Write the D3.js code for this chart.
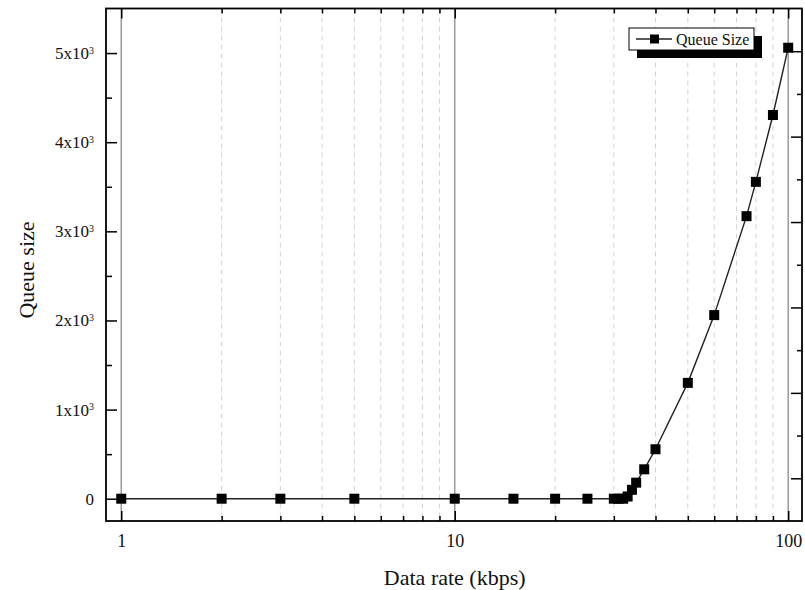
<!DOCTYPE html>
<html>
<head>
<meta charset="utf-8">
<script src="https://cdn.jsdelivr.net/npm/d3@7"></script>
<style>
  body { margin: 0; background: #fff; }
  svg { display: block; font-family: "Liberation Serif", "Times New Roman", serif; }
</style>
</head>
<body>
<div id="chart"></div>
<script>
// data rate (kbps) vs queue size
var rates = [1, 2, 3, 5, 10, 15, 20, 25, 30, 31, 32, 33, 34, 35, 37, 40, 50, 60, 75, 80, 90, 100];
var queue = [0, 0, 0, 0, 0, 0, 0, 0, 0, 0, 0, 25, 100, 180, 330, 555, 1300, 2060, 3170, 3555, 4305, 5060];
var xMajor = [1, 10, 100];
var xMinor = [2, 3, 4, 5, 6, 7, 8, 9, 20, 30, 40, 50, 60, 70, 80, 90];
var yMajor = [0, 1000, 2000, 3000, 4000, 5000];
var yMinor = [500, 1500, 2500, 3500, 4500];
var seriesName = 'Queue Size';

var draw = function () {
    var W = 805, H = 590;
    var pL = 106, pR = 802, pT = 8.5, pB = 521;

    var svg = d3.select('#chart').append('svg')
        .attr('width', W)
        .attr('height', H);

    var x = d3.scaleLog().domain([0.9, 110]).range([pL, pR]);
    var y = d3.scaleLinear().domain([-250, 5500]).range([pB, pT]);
    // right axis in Origin is independent, only ticks
    var yR = d3.scaleLinear().domain([-0.5, 5.5]).range([pB, pT]);

    // grid
    svg.append('g').selectAll('line')
        .data(xMinor)
        .enter().append('line')
        .attr('x1', function (d) { return x(d); })
        .attr('x2', function (d) { return x(d); })
        .attr('y1', pT)
        .attr('y2', pB)
        .style('stroke', '#d4d4d4')
        .style('stroke-width', 1)
        .style('stroke-dasharray', '5,4');
    svg.append('g').selectAll('line')
        .data(xMajor)
        .enter().append('line')
        .attr('x1', function (d) { return x(d); })
        .attr('x2', function (d) { return x(d); })
        .attr('y1', pT)
        .attr('y2', pB)
        .style('stroke', '#9a9a9a')
        .style('stroke-width', 1.5);

    // axes
    var styleAxis = function (g) {
        g.select('.domain').remove();
        g.selectAll('.tick line').style('stroke', '#000').style('stroke-width', 1.5);
        g.selectAll('text').style('font-family', '"Liberation Serif", serif').style('fill', '#111');
    };

    svg.append('g')
        .attr('transform', 'translate(0,' + pB + ')')
        .call(d3.axisBottom(x).tickValues(xMajor).tickSizeInner(-10).tickSizeOuter(0).tickPadding(13)
            .tickFormat(function (d) { return d; }))
        .call(styleAxis)
        .selectAll('text').style('font-size', '18px');
    svg.append('g')
        .attr('transform', 'translate(0,' + pB + ')')
        .call(d3.axisBottom(x).tickValues(xMinor).tickSizeInner(-5).tickSizeOuter(0).tickFormat(''))
        .call(styleAxis);
    svg.append('g')
        .attr('transform', 'translate(0,' + pT + ')')
        .call(d3.axisTop(x).tickValues(xMajor).tickSizeInner(-10).tickSizeOuter(0).tickFormat(''))
        .call(styleAxis);
    svg.append('g')
        .attr('transform', 'translate(0,' + pT + ')')
        .call(d3.axisTop(x).tickValues(xMinor).tickSizeInner(-5).tickSizeOuter(0).tickFormat(''))
        .call(styleAxis);

    var yAxis = svg.append('g')
        .attr('transform', 'translate(' + pL + ',0)')
        .call(d3.axisLeft(y).tickValues(yMajor).tickSizeInner(-11).tickSizeOuter(0).tickPadding(12))
        .call(styleAxis);
    yAxis.selectAll('text')
        .style('font-size', '17px')
        .text(null)
        .each(function (d) {
            var t = d3.select(this);
            if (d === 0) {
                t.append('tspan').text('0');
                return;
            }
            t.append('tspan').text((d / 1000) + 'x10');
            t.append('tspan').attr('dy', '-0.55em').style('font-size', '10px').text('3');
        });
    svg.append('g')
        .attr('transform', 'translate(' + pL + ',0)')
        .call(d3.axisLeft(y).tickValues(yMinor).tickSizeInner(-6).tickSizeOuter(0).tickFormat(''))
        .call(styleAxis);

    svg.append('g')
        .attr('transform', 'translate(' + pR + ',0)')
        .call(d3.axisRight(yR).tickValues([0, 1, 2, 3, 4, 5]).tickSizeInner(-11).tickSizeOuter(0).tickFormat(''))
        .call(styleAxis);
    svg.append('g')
        .attr('transform', 'translate(' + pR + ',0)')
        .call(d3.axisRight(yR).tickValues([0.5, 1.5, 2.5, 3.5, 4.5]).tickSizeInner(-5).tickSizeOuter(0).tickFormat(''))
        .call(styleAxis);

    // frame
    svg.append('rect')
        .attr('x', pL)
        .attr('y', pT)
        .attr('width', pR - pL)
        .attr('height', pB - pT)
        .style('fill', 'none')
        .style('stroke', '#000')
        .style('stroke-width', 1.8);

    // series
    var pts = rates.map(function (r, i) { return [r, queue[i]]; });
    svg.append('path')
        .datum(pts)
        .attr('d', d3.line().x(function (d) { return x(d[0]); }).y(function (d) { return y(d[1]); }))
        .style('fill', 'none')
        .style('stroke', '#222')
        .style('stroke-width', 1.4);
    svg.append('g').selectAll('rect')
        .data(pts)
        .enter().append('rect')
        .attr('x', function (d) { return x(d[0]) - 5; })
        .attr('y', function (d) { return y(d[1]) - 5; })
        .attr('width', 10)
        .attr('height', 10)
        .style('fill', '#000');

    // legend
    var lg = svg.append('g').attr('transform', 'translate(629,28)');
    lg.append('rect').attr('x', 8).attr('y', 8).attr('width', 125).attr('height', 22).style('fill', '#000');
    lg.append('rect').attr('width', 125).attr('height', 22)
        .style('fill', '#fff').style('stroke', '#000').style('stroke-width', 1);
    lg.append('line').attr('x1', 7).attr('x2', 43).attr('y1', 11).attr('y2', 11)
        .style('stroke', '#222').style('stroke-width', 1.4);
    lg.append('rect').attr('x', 21).attr('y', 6.5).attr('width', 9).attr('height', 9).style('fill', '#000');
    lg.append('text').attr('x', 47).attr('y', 16.5)
        .style('font-size', '16px').style('fill', '#111')
        .text(seriesName);

    // axis titles
    svg.append('text')
        .attr('x', x(10))
        .attr('y', 585)
        .attr('text-anchor', 'middle')
        .style('font-size', '22px')
        .style('fill', '#111')
        .text('Data rate (kbps)');
    svg.append('text')
        .attr('transform', 'translate(34,' + 270 + ') rotate(-90)')
        .attr('text-anchor', 'middle')
        .style('font-size', '22px')
        .style('fill', '#111')
        .text('Queue size');
};
draw();
</script>
</body>
</html>
